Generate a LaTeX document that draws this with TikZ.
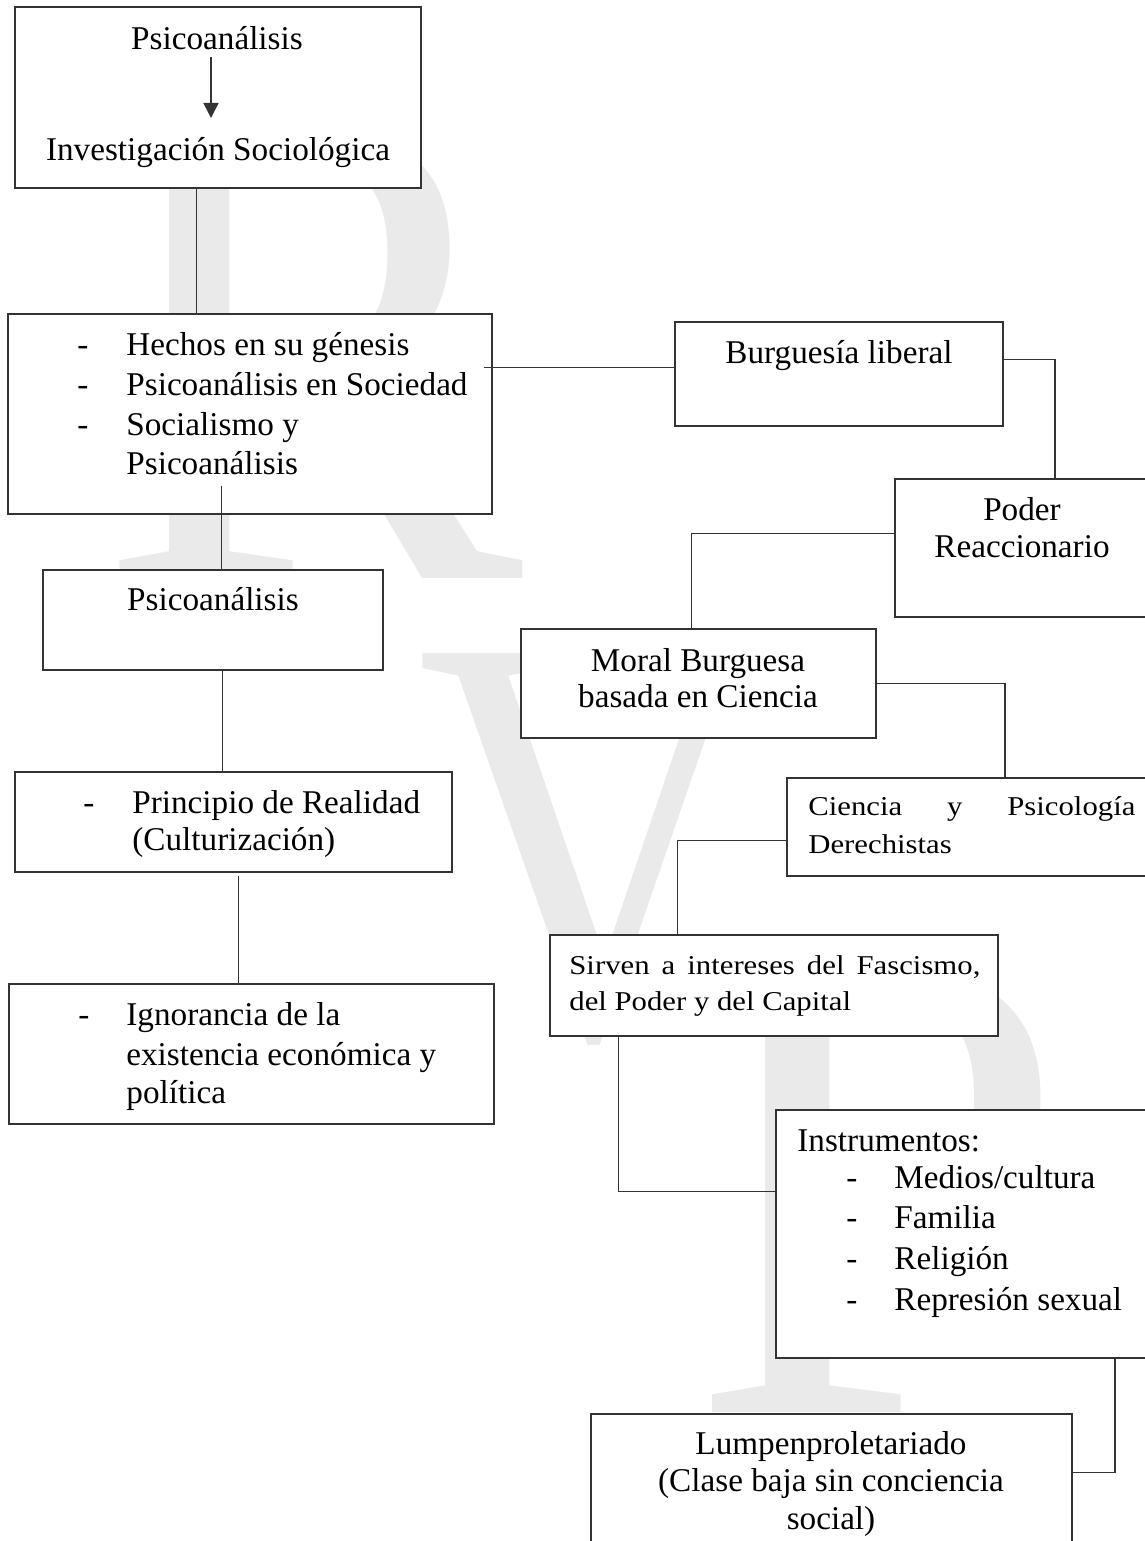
\documentclass[tikz,border=0pt]{standalone}
\usepackage{fontspec}
\setmainfont{Liberation Serif}
\newfontfamily\narrowfam[FakeStretch=1.13]{Liberation Serif}
\usepackage{graphicx}
\usetikzlibrary{fit,calc,arrows.meta}
\newcommand\mainsz{\fontsize{16.6pt}{20pt}\selectfont}
\newcommand\smallsz{\narrowfam\fontsize{13.6pt}{18pt}\selectfont}
\newcommand\wmsz[1]{\fontsize{#1}{#1}\selectfont}
\definecolor{wmgray}{HTML}{EAEAEA}
\definecolor{ink}{HTML}{333333}
\begin{document}
\begin{tikzpicture}[x=0.5pt,y=-0.5pt,
  box/.style={draw=ink,line width=0.75pt,fill=white,inner sep=0pt},
  conn/.style={draw=ink,line width=0.75pt},
  txt/.style={inner sep=0pt,font=\mainsz,text=black},
  stxt/.style={inner sep=0pt,font=\smallsz,text=black},
  wm/.style={inner sep=0pt,text=wmgray}]
\useasboundingbox (0,0) rectangle (1145,1541);
\clip (0,0) rectangle (1145,1541);
\fill[white] (0,0) rectangle (1145,1541);

% watermark
\node[wm,anchor=base west,font=\wmsz{343.5pt}] (wmR) at (97,578) {\scalebox{0.93}[1]{R}};
\node[wm,anchor=base west,font=\wmsz{292.5pt}] (wmV) at (417,1036) {\scalebox{0.83}[1]{V}};
\node[wm,anchor=base west,font=\wmsz{341.5pt}] (wmP) at (688,1412) {P};

% boxes
\node[box,fit={(15,7) (421,188)}] (b1) {};
\node[box,fit={(8,314) (492,514)}] (b2) {};
\node[box,fit={(43,570) (383,670)}] (b3) {};
\node[box,fit={(15,772) (452,872)}] (b4) {};
\node[box,fit={(9,984) (494,1124)}] (b5) {};
\node[box,fit={(675,322) (1003,426)}] (burg) {};
\node[box,fit={(895,479) (1215,617)}] (poder) {};
\node[box,fit={(521,629) (876,738)}] (moral) {};
\node[box,fit={(787,778) (1223,876)}] (ciencia) {};
\node[box,fit={(550,935) (998,1036)}] (sirven) {};
\node[box,fit={(776,1110) (1454,1358)}] (instr) {};
\node[box,fit={(591,1414) (1072,1600)}] (lumpen) {};

% texts
\node[txt,anchor=base] (t1a) at (217,50) {Psicoanálisis};
\node[txt,anchor=base] (t1b) at (218,160) {Investigación Sociológica};

\node[txt,anchor=base west] (d2a) at (77,355) {-};
\node[txt,anchor=base west] (d2b) at (77,395) {-};
\node[txt,anchor=base west] (d2c) at (77,435) {-};
\node[txt,anchor=base west] (t2a) at (126,355) {Hechos en su génesis};
\node[txt,anchor=base west] (t2b) at (126,395) {Psicoanálisis en Sociedad};
\node[txt,anchor=base west] (t2c) at (126,435) {Socialismo y};
\node[txt,anchor=base west] (t2d) at (126,474) {Psicoanálisis};

\node[txt,anchor=base] (t3) at (213,610) {Psicoanálisis};

\node[txt,anchor=base west] (d4) at (83,813) {-};
\node[txt,anchor=base west] (t4a) at (132,813) {Principio de Realidad};
\node[txt,anchor=base west] (t4b) at (132,850) {(Culturización)};

\node[txt,anchor=base west] (d5) at (78,1025) {-};
\node[txt,anchor=base west] (t5a) at (126,1025) {Ignorancia de la};
\node[txt,anchor=base west] (t5b) at (126,1065) {existencia económica y};
\node[txt,anchor=base west] (t5c) at (126,1103) {política};

\node[txt,anchor=base] (tburg) at (839,363) {Burguesía liberal};

\node[txt,anchor=base] (tpa) at (1022,520) {Poder};
\node[txt,anchor=base] (tpb) at (1022,557) {Reaccionario};

\node[txt,anchor=base] (tma) at (698,671) {Moral Burguesa};
\node[txt,anchor=base] (tmb) at (698,707) {basada en Ciencia};

\node[stxt,anchor=base west] (tca) at (808,815) {\makebox[163.5pt][s]{Ciencia y Psicología}};
\node[stxt,anchor=base west] (tcb) at (808,853) {Derechistas};

\node[stxt,anchor=base west] (tsa) at (569,974) {\makebox[205.5pt][s]{Sirven a intereses del Fascismo,}};
\node[stxt,anchor=base west] (tsb) at (569,1010) {del Poder y del Capital};

\node[txt,anchor=base west] (tia) at (797,1151) {Instrumentos:};
\node[txt,anchor=base west] (dib) at (846,1188) {-};
\node[txt,anchor=base west] (dic) at (846,1228) {-};
\node[txt,anchor=base west] (did) at (846,1269) {-};
\node[txt,anchor=base west] (die) at (846,1310) {-};
\node[txt,anchor=base west] (tib) at (894,1188) {Medios/cultura};
\node[txt,anchor=base west] (tic) at (894,1228) {Familia};
\node[txt,anchor=base west] (tid) at (894,1269) {Religión};
\node[txt,anchor=base west] (tie) at (894,1310) {Represión sexual};

\node[txt,anchor=base] (tla) at (831,1454) {Lumpenproletariado};
\node[txt,anchor=base] (tlb) at (831,1491) {(Clase baja sin conciencia};
\node[txt,anchor=base] (tlc) at (831,1529) {social)};

% arrow inside first box
\draw[conn,-{Triangle[width=7.5pt,length=7.5pt]}] ($(t1a.base)+(-6,7)$) -- ($(t1b.base)+(-7,-42)$);

% connectors
\draw[conn] ($(b1.south west)+(182,0)$) coordinate (c1) -- (c1 |- b2.north);
\draw[conn] ($(b2.south west)+(214,-29)$) coordinate (c2) -- (c2 |- b3.north);
\draw[conn] ($(b3.south west)+(180,0)$) coordinate (c3) -- (c3 |- b4.north);
\draw[conn] ($(b4.south west)+(224,3)$) coordinate (c4) -- (c4 |- b5.north);
\draw[conn] ($(b2.north east)+(-9,54)$) coordinate (c5) -- (c5 -| burg.west);
\draw[conn] ($(burg.north east)+(0,38)$) -| (poder.north);
\draw[conn] ($(poder.north west)+(0,55)$) -| ($(moral.north west)+(171,0)$);
\draw[conn] (moral.east) -| (ciencia.north);
\draw[conn] ($(ciencia.north west)+(0,63)$) -| ($(sirven.north west)+(128,0)$);
\draw[conn] ($(sirven.south west)+(69,0)$) |- ($(instr.north west)+(0,82)$);
\draw[conn] (instr.south) |- ($(lumpen.north east)+(0,59)$);
\end{tikzpicture}
\end{document}
